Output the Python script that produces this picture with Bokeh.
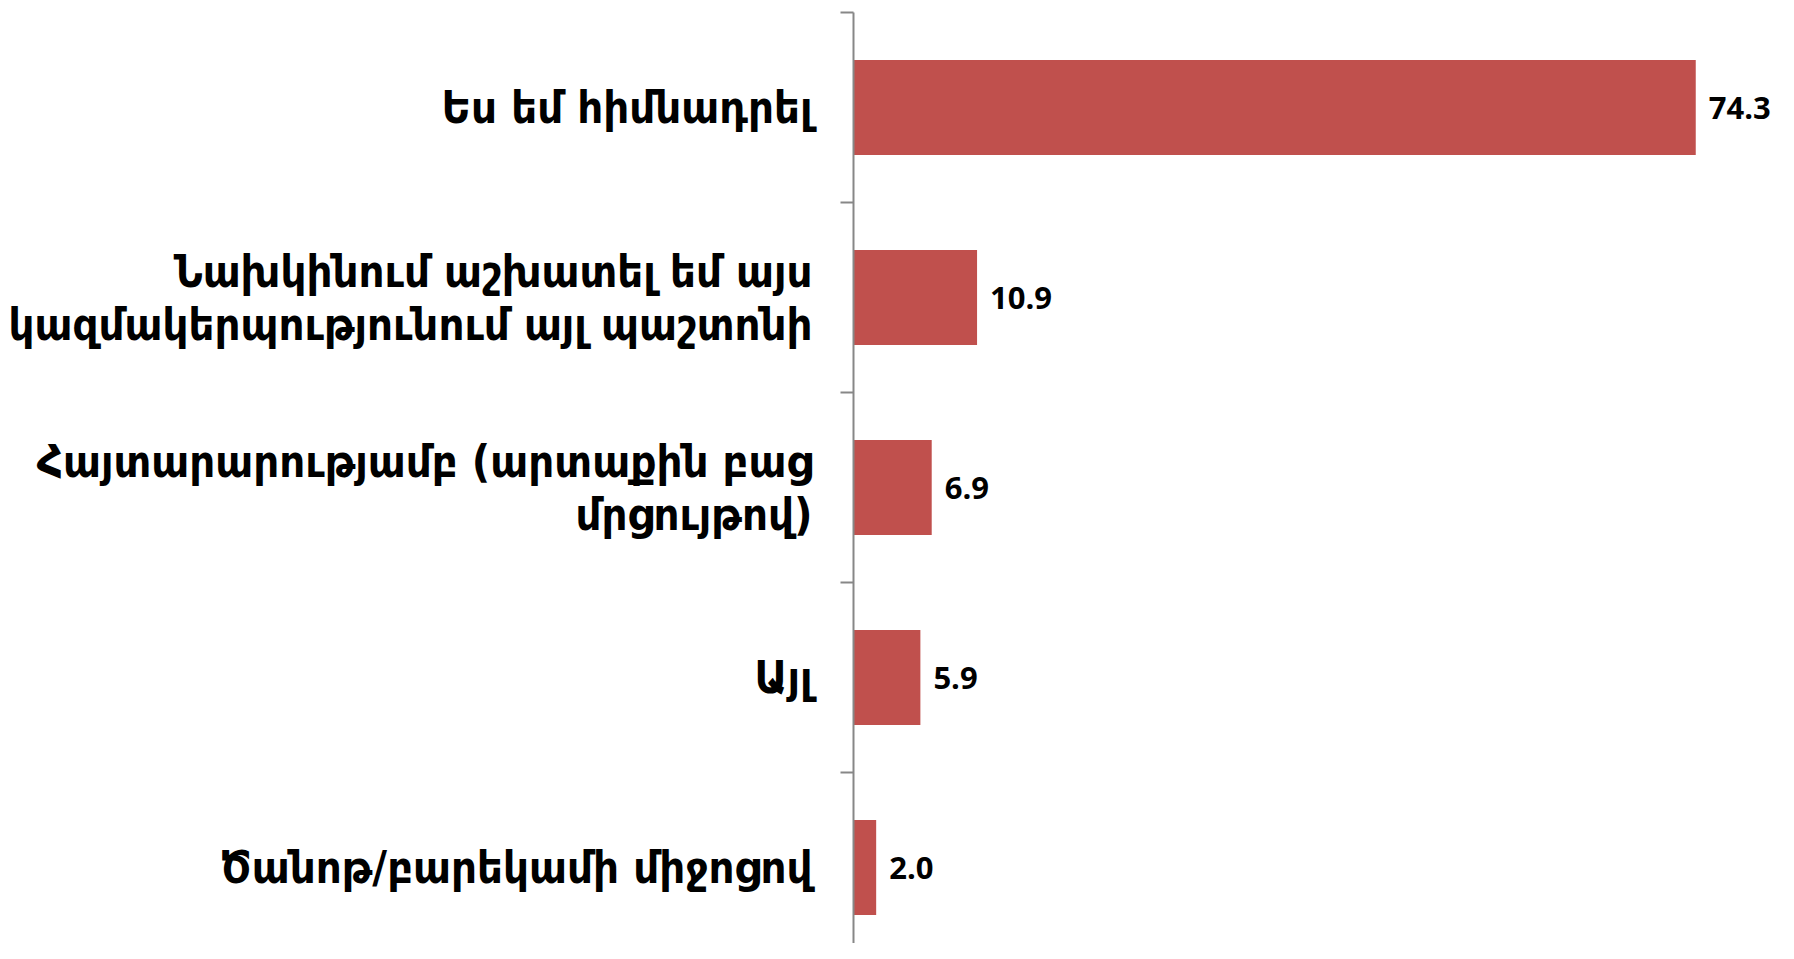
from bokeh.plotting import figure
from bokeh.models import FixedTicker, Range1d, ColumnDataSource, LabelSet
from bokeh.core.properties import value
from bokeh.embed import file_html
from bokeh.resources import INLINE

categories = [
    "Ես եմ հիմնադրել",
    "Նախկինում աշխատել եմ այս\nկազմակերպությունում այլ պաշտոնի",
    "Հայտարարությամբ (արտաքին բաց\nմրցույթով)",
    "Այլ",
    "Ծանոթ/բարեկամի միջոցով",
]
values = [74.3, 10.9, 6.9, 5.9, 2.0]
labels = ["74.3", "10.9", "6.9", "5.9", "2.0"]

n = len(categories)
ypos = [n - 1 - i for i in range(n)]

src = ColumnDataSource(dict(y=ypos, v=values, lab=labels))

p = figure(width=1778, height=943, output_backend="svg", toolbar_location=None,
           x_range=Range1d(0, 81.6), y_range=Range1d(-0.4, n - 0.5),
           x_axis_location=None, y_axis_location="left",
           min_border_left=853, min_border_right=0, min_border_top=12, min_border_bottom=0)
p.outline_line_color = None
p.grid.visible = False
p.background_fill_color = "white"

p.hbar(y="y", right="v", left=0, height=0.5, source=src, fill_color="#C0504D", line_color=None)
vl = LabelSet(x="v", y="y", text="lab", source=src, x_offset=13, text_align="left", text_baseline="middle",
              text_font=value("Open Sans"), text_font_style="bold", text_font_size="31px", text_color="black")
p.add_layout(vl)

ax = p.yaxis[0]
ax.ticker = FixedTicker(ticks=ypos, minor_ticks=[k - 0.5 for k in range(n + 1)])
ax.major_label_overrides = {ypos[i]: categories[i] for i in range(n)}
ax.major_tick_out = 0
ax.major_tick_in = 0
ax.minor_tick_out = 13
ax.minor_tick_in = 0
ax.minor_tick_line_color = "#878787"
ax.minor_tick_line_width = 2
ax.axis_line_color = "#878787"
ax.axis_line_width = 2
ax.major_label_standoff = 28
ax.major_label_text_font = "DejaVu Sans Condensed"
ax.major_label_text_font_style = "bold"
ax.major_label_text_font_size = "45px"
ax.major_label_text_color = "black"
ax.major_label_text_line_height = 1.0

open("out.html", "w").write(file_html(p, INLINE))
